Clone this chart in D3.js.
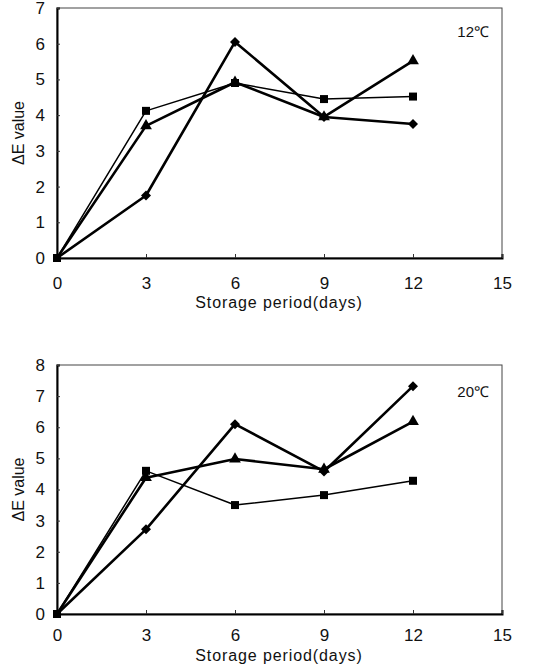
<!DOCTYPE html>
<html>
<head>
<meta charset="utf-8">
<script src="https://cdn.jsdelivr.net/npm/d3@7"></script>
<style>
  body { margin: 0; background: #fff; }
  svg text { font-family: "Liberation Sans", Arial, sans-serif; fill: #111; }
</style>
</head>
<body>
<svg width="543" height="670"></svg>
<script>
// storage days (x)
var days = [0, 3, 6, 9, 12];
var xTicks = [0, 3, 6, 9, 12, 15];

// 12 C panel
var d12_diamond  = [0, 1.75, 6.05, 3.95, 3.75];
var d12_square   = [0, 4.12, 4.90, 4.45, 4.52];
var d12_triangle = [0, 3.70, 4.92, 3.95, 5.52];

// 20 C panel
var d20_diamond  = [0, 2.72, 6.10, 4.58, 7.32];
var d20_square   = [0, 4.60, 3.50, 3.82, 4.28];
var d20_triangle = [0, 4.38, 4.98, 4.65, 6.18];

var svg = d3.select('svg');

drawPanel = (opts) => {
    var g = svg.append('g');
    var x = d3.scaleLinear().domain([0, 15]).range([57, 502]);
    var y = d3.scaleLinear().domain([0, opts.ymax]).range([opts.bottom, opts.top]);

    // frame (thin top/right)
    g.append('rect')
        .attr('x', 57).attr('y', opts.top)
        .attr('width', 445).attr('height', opts.bottom - opts.top)
        .attr('fill', 'none').attr('stroke', '#444').attr('stroke-width', 1);

    var xAxis = g.append('g')
        .attr('transform', 'translate(0,' + opts.bottom + ')')
        .call(d3.axisBottom(x).tickValues(xTicks).tickSize(-4).tickPadding(opts.xpad));
    var yAxis = g.append('g')
        .attr('transform', 'translate(57,0)')
        .call(d3.axisLeft(y).ticks(opts.ymax).tickSize(-3).tickPadding(12));

    [xAxis, yAxis].forEach(a => {
        a.select('.domain').attr('stroke', '#000').attr('stroke-width', 2);
        a.selectAll('.tick line').attr('stroke', '#333');
        a.selectAll('text').attr('font-size', 17).attr('font-family', '"Liberation Sans", Arial, sans-serif').attr('fill', '#111');
    });

    g.append('text')
        .attr('x', 279).attr('y', opts.titleY)
        .attr('text-anchor', 'middle')
        .attr('font-size', 16).attr('letter-spacing', 0.9)
        .text('Storage period(days)');

    g.append('text')
        .attr('transform', 'translate(24,' + ((opts.top + opts.bottom) / 2) + ') rotate(-90)')
        .attr('text-anchor', 'middle')
        .attr('font-size', 16)
        .text('ΔE value');

    g.append('text')
        .attr('x', 489).attr('y', opts.labelY)
        .attr('text-anchor', 'end')
        .attr('font-size', 15)
        .text(opts.label);

    var line = d3.line().x((d, i) => x(days[i])).y(d => y(d));

    var series = [
        {vals: opts.square, w: 1.5, shape: d3.symbolSquare, size: 64, rot: 0},
        {vals: opts.triangle, w: 2.6, shape: d3.symbolTriangle, size: 60, rot: 0},
        {vals: opts.diamond, w: 2.6, shape: d3.symbolSquare, size: 50, rot: 45}
    ];

    series.forEach(s => {
        g.append('path')
            .attr('d', line(s.vals))
            .attr('fill', 'none').attr('stroke', '#000')
            .attr('stroke-width', s.w).attr('stroke-linejoin', 'round');
        g.selectAll(null)
            .data(s.vals)
            .enter().append('path')
            .attr('transform', (d, i) => 'translate(' + x(days[i]) + ',' + y(d) + ')' + (i === 0 ? '' : ' rotate(' + s.rot + ')'))
            .attr('d', (d, i) => d3.symbol().type(i === 0 ? d3.symbolSquare : s.shape).size(i === 0 ? 64 : s.size)())
            .attr('fill', '#000');
    });
};

drawPanel({top: 8, bottom: 258, ymax: 7, xpad: 19, titleY: 308, labelY: 37, label: '12℃',
    diamond: d12_diamond, square: d12_square, triangle: d12_triangle});
drawPanel({top: 365, bottom: 614, ymax: 8, xpad: 15, titleY: 661, labelY: 397, label: '20℃',
    diamond: d20_diamond, square: d20_square, triangle: d20_triangle});
</script>
</body>
</html>
